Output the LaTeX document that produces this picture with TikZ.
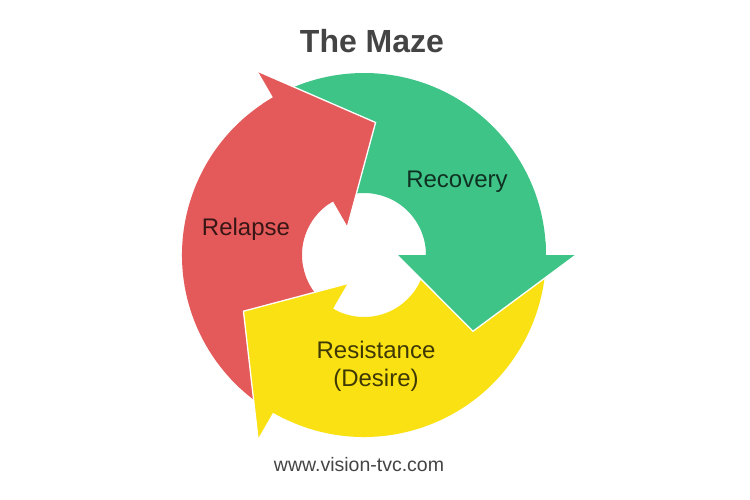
\documentclass[tikz,border=0pt]{standalone}
\usepackage{fontspec}
\setmainfont{Liberation Sans}
\definecolor{cred}{HTML}{E45A5A}
\definecolor{cgreen}{HTML}{3EC487}
\definecolor{cyellow}{HTML}{FAE114}
\definecolor{ctext}{HTML}{444444}
\begin{document}
\begin{tikzpicture}[x=1pt,y=1pt,
  lbl/.style={inner sep=0pt, text=black, text opacity=0.75, align=center,
              font=\fontsize{24}{28}\selectfont},
  headedge/.style={draw=white, line width=1.3pt, line join=miter}]
\useasboundingbox (0,0) rectangle (750,499);
\node[inner sep=0pt, text=ctext, font=\fontsize{32}{36}\selectfont\bfseries] (title) at (372,458) {The Maze};
\begin{scope}[shift={(364,244)}]
  % bodies
  \fill[cgreen]  (0:182) arc[start angle=0,end angle=120,radius=182] -- (120:62) arc[start angle=120,end angle=0,radius=62] -- cycle;
  \fill[cred]    (120:182) arc[start angle=120,end angle=240,radius=182] -- (240:62) arc[start angle=240,end angle=120,radius=62] -- cycle;
  \fill[cyellow] (240:182) arc[start angle=240,end angle=360,radius=182] -- (360:62) arc[start angle=360,end angle=240,radius=62] -- cycle;
  % heads (each overlaps its own body a little, so no seam shows)
  \fill[cgreen]  (0:33) -- (0:62) -- (4:62) -- (4:182) -- (0:182) -- (0:212) -- (-35:133) -- cycle;
  \draw[headedge] (0:212) -- (-35:133) -- (0:33);
  \fill[cyellow] (240:33) -- (240:62) -- (244:62) -- (244:182) -- (240:182) -- (240:212) -- (205:133) -- cycle;
  \draw[headedge] (240:212) -- (205:133) -- (240:33);
  \fill[cred]    (120:33) -- (120:62) -- (124:62) -- (124:182) -- (120:182) -- (120:212) -- (85:133) -- cycle;
  \draw[headedge] (120:212) -- (85:133) -- (120:33);
\end{scope}
\node[lbl] (recovery) at (457,317) {Recovery};
\node[lbl] (relapse) at (246,270) {Relapse};
\node[lbl] (resistance) at (376,133) {Resistance\\(Desire)};
\node[inner sep=0pt, text=ctext, font=\fontsize{19.5}{22}\selectfont] (url) at (359,34) {www.vision-tvc.com};
\end{tikzpicture}
\end{document}
